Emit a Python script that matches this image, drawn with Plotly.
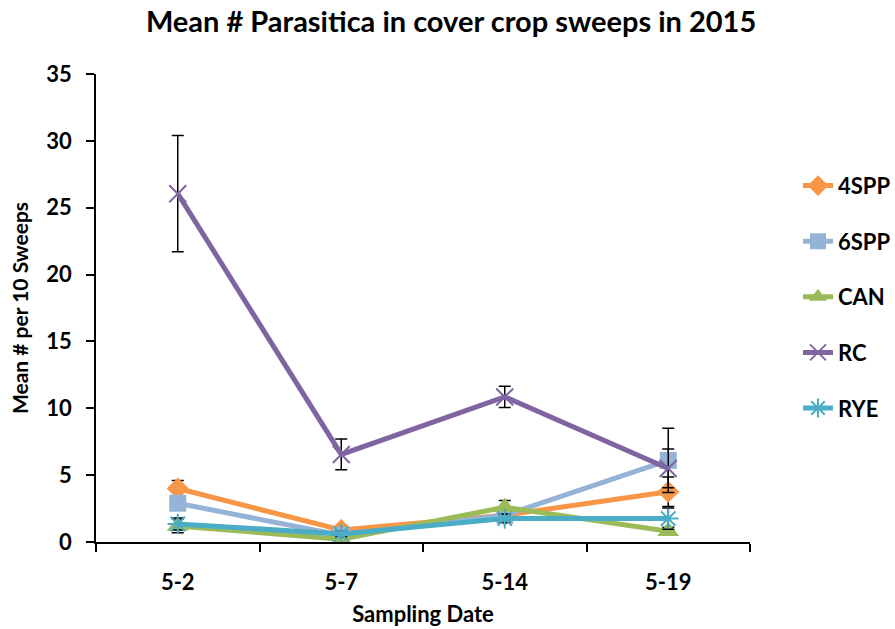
import plotly.graph_objects as go

dates = ["5-2", "5-7", "5-14", "5-19"]
series_names = ["4SPP", "6SPP", "CAN", "RC", "RYE"]
spp4 = [4.0, 0.9, 2.0, 3.76]
spp4_err = [0.6, 0.3, 0.3, 1.1]
spp6 = [2.9, 0.5, 2.0, 6.1]
spp6_err = [0.5, 0.2, 0.5, 2.4]
can = [1.2, 0.2, 2.6, 0.8]
can_err = [0.5, 0.1, 0.5, 0.3]
rc = [26.05, 6.55, 10.85, 5.5]
rc_err = [4.35, 1.15, 0.8, 1.45]
rye = [1.35, 0.6, 1.75, 1.75]
rye_err = [0.45, 0.2, 0.3, 0.8]

values = [spp4, spp6, can, rc, rye]
errors = [spp4_err, spp6_err, can_err, rc_err, rye_err]
colors = ["#F79646", "#95B3D7", "#9BBB59", "#8064A2", "#4BACC6"]
markers = [
    dict(symbol="diamond", size=17),
    dict(symbol="square", size=17),
    dict(symbol="triangle-up", size=19),
    dict(symbol="x-thin", size=17, line=dict(width=2)),
    dict(symbol="asterisk", size=17, line=dict(width=2)),
]

FONT = "Lato"

fig = go.Figure()
for name, y, e, c, m in zip(series_names, values, errors, colors, markers):
    mk = dict(m)
    mk["color"] = c
    if "line" in mk:
        mk["line"] = dict(width=mk["line"]["width"], color=c)
    fig.add_trace(go.Scatter(
        x=dates, y=y, name="<b>" + name + "</b>", mode="lines+markers",
        line=dict(color=c, width=5),
        marker=mk,
        legendgroup=name,
        error_y=dict(type="data", array=e, visible=True, color="black",
                     thickness=1.5, width=6),
    ))

fig.update_layout(
    width=895, height=629,
    margin=dict(l=96, r=145, t=74, b=87, autoexpand=False),
    plot_bgcolor="white", paper_bgcolor="white",
    font=dict(family=FONT, color="black"),
    title=dict(text="<b>Mean # Parasitica in cover crop sweeps in 2015</b>",
               x=0.504, xanchor="center", y=0.965, yanchor="middle",
               yref="container", font=dict(size=29, family=FONT)),
    xaxis=dict(
        type="category", range=[-0.5, 3.5], tickson="boundaries",
        ticks="outside", ticklen=8, tickwidth=1.5, tickcolor="black",
        showline=True, linecolor="black", linewidth=1.5, showgrid=False,
        zeroline=False, automargin=False,
        tickfont=dict(size=22, family=FONT), ticklabelstandoff=20,
        tickprefix="<b>", ticksuffix="</b>",
        title=dict(text="<b>Sampling Date</b>", font=dict(size=22, family=FONT), standoff=12),
    ),
    yaxis=dict(
        range=[0, 35], dtick=5, ticks="outside", ticklen=8, tickwidth=1.5,
        tickcolor="black", showline=True, linecolor="black", linewidth=1.5,
        showgrid=False, zeroline=False, ticklabelstandoff=10, automargin=False,
        tickfont=dict(size=22, family=FONT), tickprefix="<b>", ticksuffix="</b>",
        title=dict(text="<b>Mean # per 10 Sweeps</b>", font=dict(size=21, family=FONT), standoff=12),
    ),
    legend=dict(
        x=1.0734, xanchor="left", y=0.806, yanchor="top",
        font=dict(size=22, family=FONT), tracegroupgap=24,
        itemwidth=30,
    ),
)

fig.write_html("out.html")
